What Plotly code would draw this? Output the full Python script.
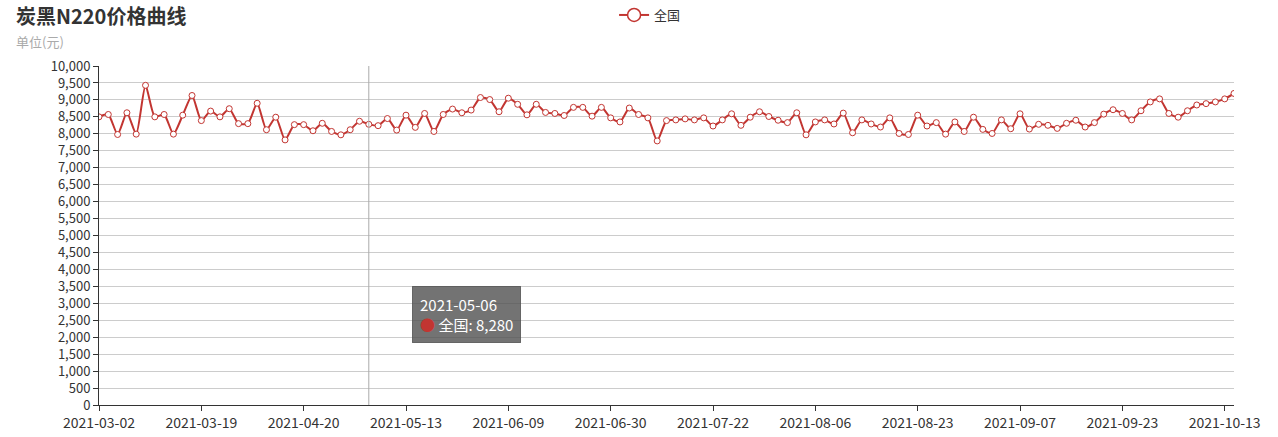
import plotly.graph_objects as go

title = "炭黑N220价格曲线"
subtitle = "单位(元)"
series_name = "全国"

dates = [
    "2021-03-02", "2021-03-03", "2021-03-04", "2021-03-05", "2021-03-08", "2021-03-09",
    "2021-03-10", "2021-03-11", "2021-03-12", "2021-03-15", "2021-03-17",
    "2021-03-19", "2021-03-22", "2021-03-25", "2021-03-29", "2021-04-01", "2021-04-02",
    "2021-04-07", "2021-04-09", "2021-04-12", "2021-04-14", "2021-04-16",
    "2021-04-20", "2021-04-22", "2021-04-23", "2021-04-26", "2021-04-27", "2021-04-29",
    "2021-04-30", "2021-05-06", "2021-05-07", "2021-05-10", "2021-05-11",
    "2021-05-13", "2021-05-14", "2021-05-17", "2021-05-19", "2021-05-20", "2021-05-24",
    "2021-05-26", "2021-05-28", "2021-06-01", "2021-06-03", "2021-06-07",
    "2021-06-09", "2021-06-10", "2021-06-11", "2021-06-15", "2021-06-16", "2021-06-17",
    "2021-06-18", "2021-06-22", "2021-06-23", "2021-06-25", "2021-06-28",
    "2021-06-30", "2021-07-01", "2021-07-02", "2021-07-05", "2021-07-07", "2021-07-08",
    "2021-07-12", "2021-07-14", "2021-07-15", "2021-07-19", "2021-07-20",
    "2021-07-22", "2021-07-23", "2021-07-26", "2021-07-27", "2021-07-28", "2021-07-29",
    "2021-07-30", "2021-08-02", "2021-08-03", "2021-08-04", "2021-08-05",
    "2021-08-06", "2021-08-09", "2021-08-10", "2021-08-11", "2021-08-12", "2021-08-13",
    "2021-08-16", "2021-08-17", "2021-08-18", "2021-08-19", "2021-08-20",
    "2021-08-23", "2021-08-24", "2021-08-25", "2021-08-26", "2021-08-27", "2021-08-30",
    "2021-08-31", "2021-09-01", "2021-09-02", "2021-09-03", "2021-09-06",
    "2021-09-07", "2021-09-08", "2021-09-09", "2021-09-10", "2021-09-13", "2021-09-14",
    "2021-09-15", "2021-09-16", "2021-09-17", "2021-09-18", "2021-09-22",
    "2021-09-23", "2021-09-24", "2021-09-26", "2021-09-27", "2021-09-28", "2021-09-29",
    "2021-09-30", "2021-10-08", "2021-10-09", "2021-10-11", "2021-10-12",
    "2021-10-13", "2021-10-14",
]

prices = [
    8500, 8570, 7980, 8620, 7990, 9430, 8500, 8570, 7990, 8550, 9130,
    8390, 8670, 8500, 8740, 8300, 8300, 8900, 8120, 8490, 7820, 8270,
    8270, 8090, 8310, 8070, 7970, 8120, 8370, 8280, 8240, 8450, 8110,
    8550, 8190, 8600, 8070, 8570, 8730, 8620, 8700, 9070, 9010, 8650,
    9050, 8870, 8560, 8870, 8630, 8600, 8540, 8780, 8780, 8520, 8780,
    8470, 8350, 8760, 8570, 8470, 7790, 8390, 8410, 8440, 8410, 8470,
    8230, 8410, 8590, 8250, 8490, 8650, 8510, 8400, 8330, 8620, 7970,
    8350, 8410, 8290, 8610, 8030, 8410, 8290, 8200, 8470, 8010, 7980,
    8550, 8230, 8330, 7990, 8350, 8070, 8490, 8130, 8010, 8410, 8150,
    8590, 8140, 8280, 8250, 8160, 8310, 8400, 8200, 8330, 8580, 8710,
    8600, 8410, 8680, 8940, 9030, 8600, 8490, 8680, 8850, 8890, 8940, 9030, 9190,
]

tick_labels = dates[::11]
hover_index = 29

RED = "#c23531"
FONT = "Noto Sans CJK SC"

fig = go.Figure()
fig.add_trace(go.Scatter(
    x=dates, y=prices, mode="lines+markers", name=series_name,
    line=dict(color=RED, width=2, shape="spline", smoothing=0.6),
    marker=dict(symbol="circle", size=6, color="white", line=dict(color=RED, width=1)),
    showlegend=False,
))
# legend-only entry (larger icon like the reference)
fig.add_trace(go.Scatter(
    x=[None], y=[None], mode="lines+markers", name=series_name,
    line=dict(color=RED, width=2),
    marker=dict(symbol="circle", size=13, color="white", line=dict(color=RED, width=1.5)),
    showlegend=True,
))

# hover pointer line
fig.add_shape(type="line", xref="x", yref="paper", x0=hover_index, x1=hover_index,
              y0=0, y1=1, line=dict(color="#aaaaaa", width=1))

# tooltip box
fig.add_annotation(
    xref="x", yref="paper", x=hover_index, y=0.350, xanchor="left", yanchor="top",
    xshift=43, showarrow=False, align="left",
    text=(f"{dates[hover_index]}<br><span style='color:{RED}'>●</span> "
          f"{series_name}: {prices[hover_index]:,}"),
    font=dict(family=FONT, size=15, color="white"),
    bgcolor="rgba(80,80,80,0.8)", bordercolor="rgba(80,80,80,0.8)", borderwidth=1, borderpad=7,
)

# title and subtitle
fig.add_annotation(xref="paper", yref="paper", x=-0.0749, y=1.150, xanchor="left", yanchor="middle",
                   showarrow=False, text=f"<b>{title}</b>",
                   font=dict(family=FONT, size=20, color="#333333"))
fig.add_annotation(xref="paper", yref="paper", x=-0.0749, y=1.071, xanchor="left", yanchor="middle",
                   showarrow=False, text=subtitle,
                   font=dict(family=FONT, size=13, color="#aaaaaa"))

fig.update_layout(
    width=1278, height=437,
    margin=dict(l=99, r=44, t=66, b=32, autoexpand=False),
    paper_bgcolor="white", plot_bgcolor="white",
    font=dict(family=FONT, size=13, color="#333333"),
    legend=dict(orientation="h", xref="container", yref="container",
                x=0.4805, y=1.0, xanchor="left", yanchor="top",
                font=dict(family=FONT, size=13, color="#333333"),
                itemwidth=30, bgcolor="rgba(0,0,0,0)"),
    hovermode=False,
)
fig.update_xaxes(
    type="category", categoryorder="array", categoryarray=dates,
    range=[0, len(dates) - 1],
    tickmode="array", tickvals=tick_labels, ticktext=tick_labels, tickangle=0,
    showline=True, linecolor="#333333", linewidth=1,
    ticks="outside", ticklen=5, tickcolor="#333333",
    showgrid=False, zeroline=False,
    tickfont=dict(family=FONT, size=14, color="#333333"),
)
fig.update_yaxes(
    range=[0, 10000], dtick=500, tickformat=",d",
    showline=True, linecolor="#333333", linewidth=1,
    ticks="outside", ticklen=5, tickcolor="#333333",
    showgrid=True, gridcolor="#cccccc", gridwidth=1, zeroline=False,
    tickfont=dict(family=FONT, size=13, color="#333333"),
)

fig.write_html("out.html", config={"displayModeBar": False},
               post_script="document.body.style.margin='0px';")
